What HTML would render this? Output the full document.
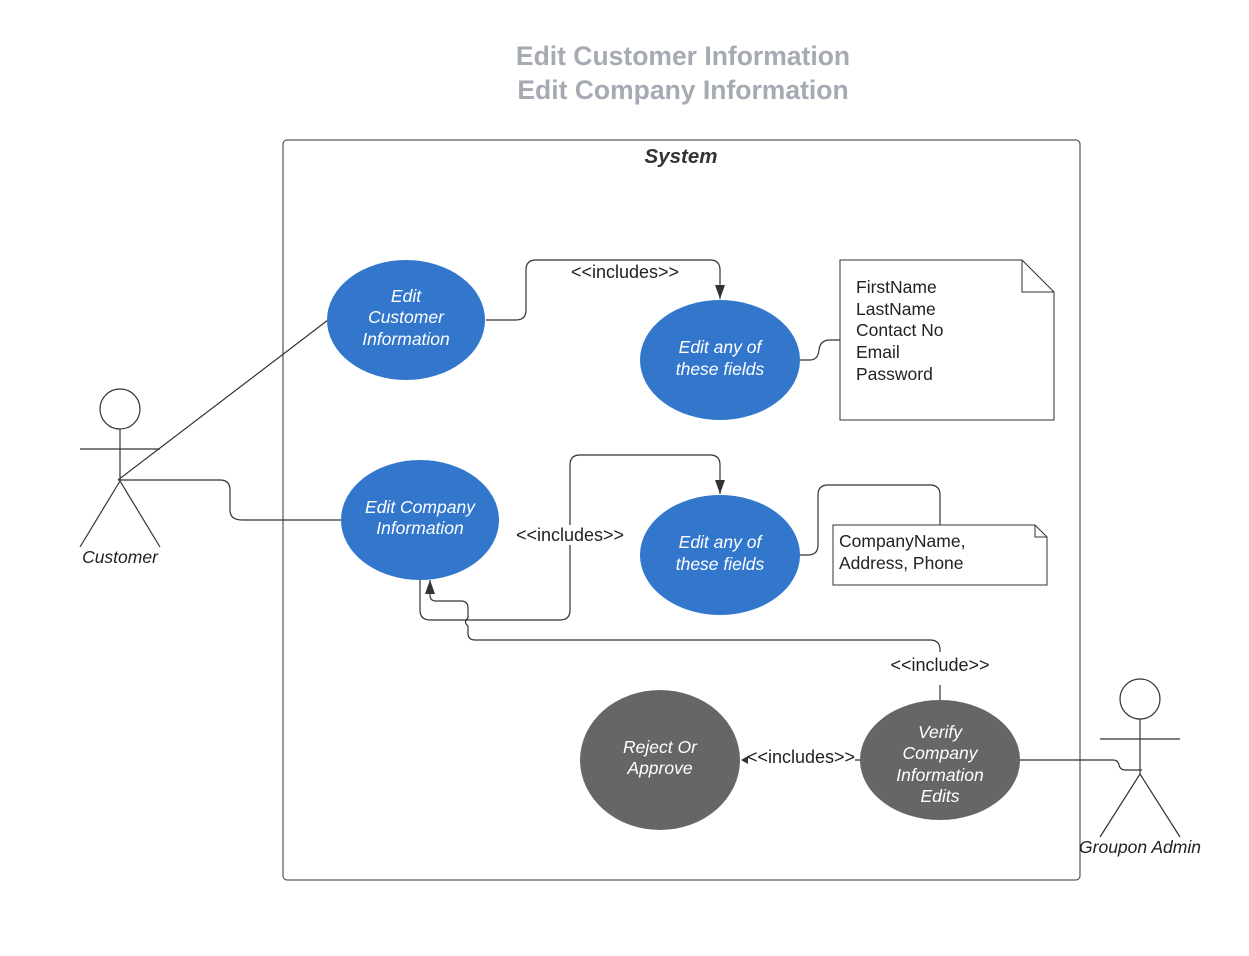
<!DOCTYPE html>
<html><head><meta charset="utf-8"><style>
html,body{margin:0;padding:0;background:#fff;}
svg{display:block;}
text{font-family:"Liberation Sans",Arial,sans-serif;}
</style></head><body>
<svg width="1249" height="956" viewBox="0 0 1249 956" xmlns="http://www.w3.org/2000/svg">
<defs>
<marker id="ar" markerWidth="14" markerHeight="10" refX="14" refY="5" orient="auto" markerUnits="userSpaceOnUse">
<path d="M0,0 L14,5 L0,10 Z" fill="#333"/>
</marker>
</defs>
<rect width="1249" height="956" fill="#fff"/>
<text x="683" y="65" text-anchor="middle" font-size="26.5" font-weight="bold" fill="#a5aab3">Edit Customer Information</text>
<text x="683" y="99" text-anchor="middle" font-size="26.5" font-weight="bold" fill="#a5aab3">Edit Company Information</text>

<rect x="283" y="140" width="797" height="740" rx="4" fill="none" stroke="#333" stroke-width="1"/>
<text x="681" y="163" text-anchor="middle" font-size="20.5" font-weight="bold" font-style="italic" fill="#333">System</text>

<g fill="none" stroke="#333" stroke-width="1.2">
<circle cx="120" cy="409" r="20"/>
<line x1="120" y1="429" x2="120" y2="481"/>
<line x1="80" y1="449" x2="160" y2="449"/>
<line x1="120" y1="481" x2="80" y2="547"/>
<line x1="120" y1="481" x2="160" y2="547"/>
<circle cx="1140" cy="699" r="20"/>
<line x1="1140" y1="719" x2="1140" y2="774"/>
<line x1="1100" y1="739" x2="1180" y2="739"/>
<line x1="1140" y1="774" x2="1100" y2="837"/>
<line x1="1140" y1="774" x2="1180" y2="837"/>
<line x1="118" y1="480" x2="328" y2="320"/>
<path d="M118,480 H220 Q230,480 230,490 V510 Q230,520 242,520 H341"/>
<path d="M486,320 H516 Q526,320 526,310 V270 Q526,260 536,260 H710 Q720,260 720,270 V299" marker-end="url(#ar)"/>
<path d="M800,360 H810 Q818,360 819,350 Q820,340 830,340 H840"/>
<path d="M420,580 V610 Q420,620 430,620 H560 Q570,620 570,610 V465 Q570,455 580,455 H710 Q720,455 720,465 V494" marker-end="url(#ar)"/>
<path d="M800,555 H808 Q818,555 818,545 V495 Q818,485 828,485 H930 Q940,485 940,495 V525"/>
<path d="M940,700 V685 M940,652 V650 Q940,640 930,640 H475 Q468,640 468,633 V626 Q463,622 468,618 V608 Q468,601 461,601 H436 Q430,601 430,595 V580" marker-end="url(#ar)"/>
<path d="M860,760 H855 M748,760 H744"/>
<path d="M1020,760 H1113 Q1118,760 1119,765 Q1120,770 1126,770 H1142"/>
</g>
<path d="M741,760 L748,756 L748,764 Z" fill="#333"/>

<path d="M840,260 H1022 L1054,292 V420 H840 Z" fill="#fff" stroke="#333" stroke-width="1"/>
<path d="M1022,260 V292 H1054" fill="none" stroke="#333" stroke-width="1"/>
<path d="M833,525 H1035 L1047,537 V585 H833 Z" fill="#fff" stroke="#333" stroke-width="1"/>
<path d="M1035,525 V537 H1047" fill="none" stroke="#333" stroke-width="1"/>
<g font-size="17.5" fill="#222">
<text x="856" y="293">FirstName</text>
<text x="856" y="315">LastName</text>
<text x="856" y="336">Contact No</text>
<text x="856" y="358">Email</text>
<text x="856" y="380">Password</text>
<text x="839" y="547">CompanyName,</text>
<text x="839" y="569">Address, Phone</text>
</g>

<ellipse cx="406" cy="320" rx="79" ry="60" fill="#3277cc"/>
<ellipse cx="720" cy="360" rx="80" ry="60" fill="#3277cc"/>
<ellipse cx="420" cy="520" rx="79" ry="60" fill="#3277cc"/>
<ellipse cx="720" cy="555" rx="80" ry="60" fill="#3277cc"/>
<ellipse cx="660" cy="760" rx="80" ry="70" fill="#666666"/>
<ellipse cx="940" cy="760" rx="80" ry="60" fill="#666666"/>

<g font-size="17.5" font-style="italic" fill="#fff" text-anchor="middle">
<text x="406" y="302">Edit</text>
<text x="406" y="323">Customer</text>
<text x="406" y="345">Information</text>
<text x="720" y="353">Edit any of</text>
<text x="720" y="375">these fields</text>
<text x="420" y="513">Edit Company</text>
<text x="420" y="534">Information</text>
<text x="720" y="548">Edit any of</text>
<text x="720" y="570">these fields</text>
<text x="660" y="753">Reject Or</text>
<text x="660" y="774">Approve</text>
<text x="940" y="738">Verify</text>
<text x="940" y="759">Company</text>
<text x="940" y="781">Information</text>
<text x="940" y="802">Edits</text>
</g>

<g font-size="18" fill="#222" text-anchor="middle">
<text x="625" y="278">&lt;&lt;includes&gt;&gt;</text>
<rect x="514" y="525" width="112" height="20" fill="#fff"/>
<text x="570" y="541">&lt;&lt;includes&gt;&gt;</text>
<text x="940" y="671">&lt;&lt;include&gt;&gt;</text>
<text x="801" y="763">&lt;&lt;includes&gt;&gt;</text>
</g>
<g font-size="17.5" font-style="italic" fill="#222" text-anchor="middle">
<text x="120" y="563">Customer</text>
<text x="1140" y="853">Groupon Admin</text>
</g>
</svg>
</body></html>
